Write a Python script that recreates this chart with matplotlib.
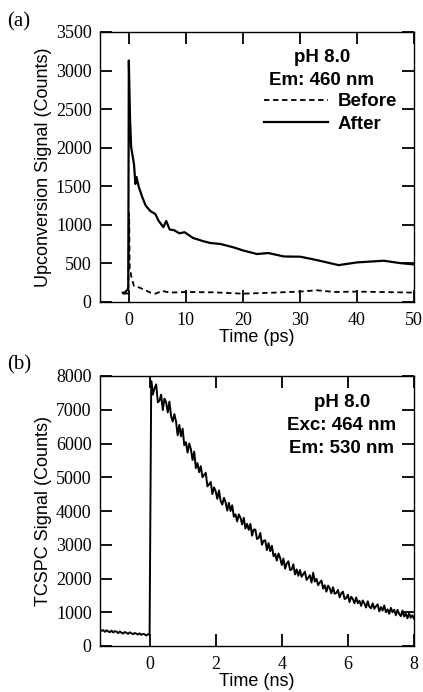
import numpy as np
import matplotlib
matplotlib.use("Agg")
import matplotlib.pyplot as plt
from matplotlib.lines import Line2D

# ---- (a) upconversion data ----
after_t = [-1.0, -0.6, -0.2, -0.05, 0.05, 0.25, 0.45, 0.7, 0.95, 1.2, 1.4, 1.8, 2.4, 3.0,
           3.8, 4.7, 5.2, 6.1, 6.6, 7.2, 8.0, 8.9, 9.8, 11.3, 13.0, 14.3, 16.1, 18.4,
           20.2, 22.5, 24.5, 27.2, 30.1, 33.0, 36.8, 40.0, 44.7, 47.6, 50.0]
after_y = [120, 125, 160, 170, 3130, 2400, 2010, 1900, 1790, 1530, 1620, 1490, 1360, 1250,
           1180, 1140, 1060, 970, 1050, 940, 930, 890, 905, 830, 790, 765, 752, 708,
           665, 622, 635, 590, 587, 543, 478, 513, 535, 504, 487]

before_t = [-1.0, -0.2, -0.05, 0.1, 0.2, 0.46, 0.93, 1.8, 2.6, 3.8, 4.7, 5.9, 7.3, 10.2,
            15, 20, 25, 30, 33, 36, 40, 45, 50]
before_y = [108, 110, 115, 1150, 450, 340, 210, 190, 165, 122, 108, 143, 122, 130,
            125, 108, 120, 135, 152, 130, 135, 128, 122]

# ---- (b) TCSPC trace, 0.05 ns bins from -1.5 to 8 ns ----
tcspc_t = np.linspace(-1.5, 8.0, 191)
tcspc_y = [
    # before the pulse
    480, 450, 470, 420, 465, 430, 410, 455, 400, 440, 425, 380, 430, 395, 370, 415,
    390, 360, 405, 375, 350, 385, 365, 340, 375, 330, 360, 345, 310, 350, 330,
    # rise and early decay
    7850, 7450, 7640, 7750, 7220, 7270, 7450, 6990, 7330, 7220, 6920, 7240, 6820, 6650,
    6870, 6650, 6240, 6550, 6210, 6440, 5950, 6040, 5730, 6000, 5830, 5510, 5760, 5270,
    5420, 5150,
    # middle
    5330, 5000, 5070, 5130, 4730, 4790, 4860, 4500, 4700, 4580, 4360, 4610, 4300, 4190,
    4390, 4260, 4010, 4240, 4000, 4170, 3830, 3900, 3690, 3900, 3800, 3600, 3800, 3480,
    3620, 3440, 3620, 3270, 3450, 3450, 3170, 3200, 3350, 3000, 3120, 3130, 2840, 3050,
    2810, 2970, 2660, 2730, 2530, 2740, 2610, 2400, 2590, 2290, 2450, 2510, 2250, 2270,
    2420, 2120, 2270, 2080,
    # tail
    2250, 2050, 2130, 2200, 1960, 2020, 2100, 1880, 2170, 1910,
    1990, 1800, 1880, 1940, 1700, 1800, 1610, 1790, 1710, 1560,
    1740, 1550, 1570, 1660, 1440, 1560, 1610, 1390, 1420, 1520,
    1300, 1460, 1390, 1270, 1440, 1270, 1340, 1190, 1350, 1260,
    1140, 1325, 1160, 1120, 1265, 1100, 1180, 1235, 1025, 1155,
    1050, 1200, 1000, 1085, 955, 1130, 1000, 1075, 910, 1070,
    955, 885, 1050, 875, 965, 820, 970, 840, 910, 810,
]

serif = "Liberation Serif"
sans = "Liberation Sans"

fig = plt.figure(figsize=(4.23, 6.92), dpi=100)

def style_axes(ax):
    for s in ax.spines.values():
        s.set_linewidth(1.0)
    ax.tick_params(direction="in", length=8.5, width=1.3, top=True, right=True,
                   labelsize=13, pad=6)
    ax.tick_params(axis="x", pad=7)
    for lab in ax.get_xticklabels() + ax.get_yticklabels():
        lab.set_fontfamily(serif)

# panel (a)
ax1 = fig.add_axes([100/423, 1-302/692, 314/423, 270/692])
ax1.plot(before_t, before_y, color="black", lw=1.3, linestyle=(0, (3, 2)))
ax1.plot(after_t, after_y, color="black", lw=1.6)
ax1.set_xlim(-5, 50)
ax1.set_ylim(0, 3500)
ax1.set_xticks([0, 10, 20, 30, 40, 50])
ax1.set_yticks(range(0, 3501, 500))
style_axes(ax1)
ax1.set_xlabel("Time (ps)", fontfamily=sans, fontsize=13, labelpad=0)
ax1.set_ylabel("Upconversion Signal (Counts)", fontfamily=sans, fontsize=13, labelpad=3)
ax1.text(0.707, 0.904, "pH 8.0", transform=ax1.transAxes, ha="center", va="center",
         fontfamily=sans, fontweight="bold", fontsize=13.5)
ax1.text(0.704, 0.822, "Em: 460 nm", transform=ax1.transAxes, ha="center", va="center",
         fontfamily=sans, fontweight="bold", fontsize=13.5)
handles = [Line2D([], [], color="black", lw=1.3, linestyle=(0, (3, 2))),
           Line2D([], [], color="black", lw=1.6)]
ax1.legend(handles, ["Before", "After"], frameon=False, loc="center left",
           bbox_to_anchor=(0.47, 0.70), handlelength=3.4, handletextpad=0.5,
           labelspacing=0.3, prop={"family": sans, "weight": "bold", "size": 13.5})
fig.text(7/423, 1-22/692, "(a)", fontfamily=serif, fontsize=15, va="center")

# panel (b)
ax2 = fig.add_axes([100/423, 1-646/692, 314/423, 270/692])
ax2.plot(tcspc_t, tcspc_y, color="black", lw=1.4)
ax2.set_xlim(-1.5, 8)
ax2.set_ylim(0, 8000)
ax2.set_xticks([0, 2, 4, 6, 8])
ax2.set_yticks(range(0, 8001, 1000))
style_axes(ax2)
ax2.set_xlabel("Time (ns)", fontfamily=sans, fontsize=13, labelpad=0)
ax2.set_ylabel("TCSPC Signal (Counts)", fontfamily=sans, fontsize=13, labelpad=3)
for y, s in [(0.90, "pH 8.0"), (0.815, "Exc: 464 nm"), (0.733, "Em: 530 nm")]:
    ax2.text(0.77, y, s, transform=ax2.transAxes, ha="center", va="center",
             fontfamily=sans, fontweight="bold", fontsize=13.5)
fig.text(7/423, 1-365/692, "(b)", fontfamily=serif, fontsize=15, va="center")

fig.savefig("out.png", dpi=100)
